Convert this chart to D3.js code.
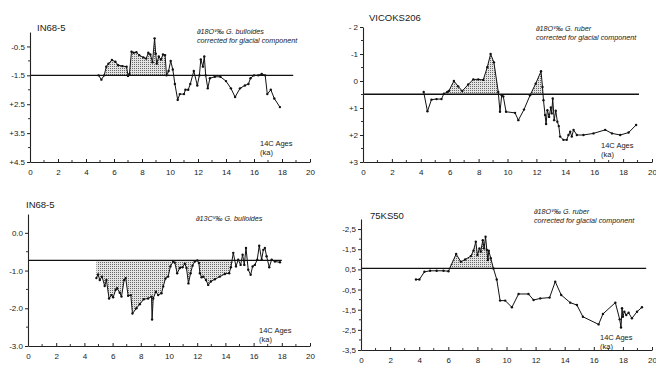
<!DOCTYPE html>
<html>
<head>
<meta charset="utf-8">
<script src="https://cdn.jsdelivr.net/npm/d3@7"></script>
<style>
  body { margin: 0; background: #fff; }
  svg text { font-family: "Liberation Sans", Arial, sans-serif; fill: #1a1a1a; }
</style>
</head>
<body>
<div id="chart"></div>
<script>
// ---- data (age in 14C ka, isotope value) ----
const xTicks = [0, 2, 4, 6, 8, 10, 12, 14, 16, 18, 20];

// IN68-5, d18O G. bulloides
const ages1 = [4.9, 5.1, 5.3, 5.45, 5.6, 5.85, 6.1, 6.3, 6.6, 6.9, 7.0, 7.1, 7.25, 7.4, 7.6, 7.8, 8.1, 8.3, 8.45, 8.6, 8.75, 8.9, 8.98, 9.05, 9.2, 9.35, 9.5, 9.65, 9.75, 9.9, 10.05, 10.2, 10.35, 10.55, 10.7, 11.0, 11.1, 11.3, 11.45, 11.7, 11.95, 12.1, 12.2, 12.35, 12.45, 12.55, 12.7, 12.85, 13.2, 13.6, 14.0, 14.35, 14.65, 15.0, 15.35, 15.6, 15.75, 16.0, 16.3, 16.55, 16.8, 16.95, 17.2, 17.45, 17.85];
const vals1 = [1.5, 1.65, 1.5, 1.2, 1.1, 0.97, 1.03, 1.15, 1.18, 1.2, 1.52, 1.45, 0.68, 0.72, 0.7, 0.8, 0.88, 0.92, 0.72, 0.78, 1.05, 0.22, 0.75, 1.1, 0.85, 0.95, 0.78, 0.8, 1.5, 1.35, 1.0, 1.3, 1.8, 2.35, 2.15, 2.15, 2.0, 2.0, 1.8, 1.35, 1.85, 1.5, 0.95, 1.2, 0.85, 1.5, 1.95, 1.6, 1.55, 1.55, 1.7, 1.95, 2.25, 1.95, 1.85, 1.8, 1.6, 1.5, 1.5, 1.45, 1.5, 2.15, 2.0, 2.3, 2.6];
const yTicks1 = [0.5, 1.5, 2.5, 3.5, 4.5];
const yLabels1 = ["-0.5", "-1.5", "+2.5", "+3.5", "+4.5"];

// VICOKS206, d18O G. ruber
const ages2 = [4.2, 4.46, 4.74, 5.09, 5.43, 5.6, 5.83, 5.94, 6.29, 6.59, 6.87, 7.28, 7.63, 7.98, 8.32, 8.6, 8.83, 9.06, 9.36, 9.48, 9.6, 9.71, 9.9, 10.52, 10.75, 11.14, 11.56, 11.95, 12.32, 12.42, 12.49, 12.6, 12.67, 12.76, 12.88, 13.0, 13.06, 13.13, 13.23, 13.34, 13.45, 13.55, 13.64, 13.87, 14.1, 14.22, 14.34, 14.45, 14.57, 14.8, 15.26, 15.95, 16.76, 17.23, 17.8, 18.38, 18.9];
const vals2 = [0.41, 1.12, 0.69, 0.67, 0.67, 0.47, 0.41, 0.37, 0.0, 0.2, 0.37, 0.13, -0.06, -0.06, -0.04, -0.51, -1.0, -0.69, 0.41, 1.14, 0.53, 0.57, 1.14, 1.18, 1.45, 1.06, 0.53, 0.1, -0.36, 0.22, 0.71, 1.26, 1.59, 1.08, 1.33, 0.98, 1.2, 0.65, 1.45, 1.1, 1.51, 1.67, 2.06, 2.18, 2.18, 2.0, 1.88, 2.06, 1.81, 2.0, 2.0, 1.94, 1.81, 1.94, 2.0, 1.91, 1.63];
const yTicks2 = [-2, -1, 0, 1, 2, 3];
const yLabels2 = ["- 2", "-1", "0", "+1", "+2", "+3"];

// IN68-5, d13C G. bulloides
const ages3 = [4.85, 4.97, 5.09, 5.25, 5.44, 5.56, 5.75, 5.92, 6.04, 6.22, 6.32, 6.51, 6.63, 6.82, 6.93, 7.1, 7.29, 7.41, 7.69, 7.93, 8.21, 8.52, 8.76, 8.8, 8.88, 9.07, 9.23, 9.47, 9.59, 9.75, 9.94, 10.1, 10.3, 10.41, 10.58, 10.77, 10.96, 11.12, 11.24, 11.38, 11.53, 11.67, 11.83, 12.0, 12.12, 12.19, 12.31, 12.43, 12.62, 12.78, 12.97, 13.25, 13.61, 13.96, 14.27, 14.39, 14.56, 14.75, 14.91, 15.08, 15.22, 15.34, 15.46, 15.62, 15.79, 15.93, 16.09, 16.26, 16.4, 16.57, 16.69, 16.8, 16.92, 17.11, 17.28, 17.51, 17.87];
const vals3 = [-1.2, -1.1, -1.25, -1.16, -1.41, -1.25, -1.74, -1.65, -1.71, -1.51, -1.47, -1.59, -1.69, -1.25, -1.2, -1.67, -1.65, -2.14, -2.0, -1.89, -1.76, -1.74, -1.69, -2.3, -1.74, -1.56, -1.65, -1.6, -1.42, -1.21, -1.16, -0.89, -0.76, -0.79, -1.07, -0.93, -0.91, -0.82, -0.93, -1.34, -1.07, -0.87, -0.76, -0.73, -0.8, -1.07, -1.18, -1.16, -1.25, -1.38, -1.29, -1.23, -1.16, -1.09, -1.07, -0.91, -0.53, -0.89, -0.71, -0.85, -0.58, -0.85, -0.4, -0.98, -1.11, -0.89, -0.85, -0.71, -0.34, -0.71, -0.45, -0.4, -0.62, -0.91, -0.71, -0.76, -0.78];
const yTicks3 = [0, -1, -2, -3];
const yLabels3 = ["0.0", "-1.0", "-2.0", "-3.0"];

// 75KS50, d18O G. ruber
const ages4 = [3.78, 4.01, 4.36, 4.75, 5.2, 5.67, 6.01, 6.54, 6.86, 7.16, 7.55, 7.73, 7.89, 8.0, 8.14, 8.23, 8.37, 8.46, 8.56, 8.65, 8.72, 8.78, 8.92, 9.1, 9.33, 9.56, 9.91, 10.37, 10.83, 11.51, 11.86, 12.32, 12.96, 13.35, 13.76, 14.38, 14.84, 15.25, 16.33, 16.63, 17.48, 17.78, 17.87, 17.94, 18.0, 18.1, 18.23, 18.39, 18.62, 18.97, 19.31];
const vals4 = [0.0, 0.0, 0.38, 0.43, 0.43, 0.43, 0.41, 1.26, 0.88, 0.99, 1.16, 1.43, 1.87, 1.21, 1.54, 1.38, 1.95, 1.54, 2.12, 1.46, 0.96, 1.43, 1.05, 0.55, 0.0, -1.05, -1.05, -1.38, -0.72, -0.72, -1.02, -0.94, -0.9, -0.11, -0.77, -1.15, -1.27, -1.85, -2.23, -1.71, -1.15, -1.98, -2.38, -1.43, -1.85, -1.6, -1.76, -1.65, -1.93, -1.6, -1.38];
const yTicks4 = [2.5, 1.5, 0.5, -0.5, -1.5, -2.5, -3.5];
const yLabels4 = ["-2,5", "-1,5", "0,5", "-0,5", "-1,5", "-2,5", "-3,5"];

// ---- panel layout (yRange maps yDomain[0] -> yRange[0]) ----
const panels = [
  { title: "IN68-5", tx: 37, ty: 31, ages: ages1, vals: vals1, base: 1.5, baseEnd: 18.8,
    xRange: [30, 310], yDomain: [0, 4.5], yRange: [32, 162], yTicks: yTicks1, yLabels: yLabels1,
    shade: [5.2, 9.9], side: "up",
    notes: ["\u220218O\u1D5B\u2030 G. bulloides", "corrected for glacial component"], nx: 197, ny: 34,
    ax: 260, ay: 146 },
  { title: "VICOKS206", tx: 369, ty: 21, ages: ages2, vals: vals2, base: 0.49, baseEnd: 19.1,
    xRange: [363, 652], yDomain: [-2, 3], yRange: [27, 162], yTicks: yTicks2, yLabels: yLabels2,
    shade: [5.5, 12.55], side: "up",
    notes: ["\u220218O\u1D5B\u2030 G. ruber", "corrected for glacial component"], nx: 536, ny: 31,
    ax: 601, ay: 148 },
  { title: "IN68-5", tx: 26, ty: 208, ages: ages3, vals: vals3, base: -0.73, baseEnd: 18.0,
    xRange: [28, 310], yDomain: [-3, 0.5], yRange: [346, 214], yTicks: yTicks3, yLabels: yLabels3,
    shade: [4.8, 14.6], side: "down",
    notes: ["\u220213C\u1D5B\u2030 G. bulloides"], nx: 196, ny: 221,
    ax: 259, ay: 333 },
  { title: "75KS50", tx: 370, ty: 219, ages: ages4, vals: vals4, base: 0.55, baseEnd: 19.6,
    xRange: [361, 652], yDomain: [-3.5, 3], yRange: [350, 219], yTicks: yTicks4, yLabels: yLabels4,
    shade: [6.0, 9.35], side: "up",
    notes: ["\u220218O\u1D5B\u2030 G. ruber", "corrected for glacial component"], nx: 534, ny: 214,
    ax: 600, ay: 340 }
];

const svg = d3.select("#chart").append("svg")
  .attr("width", 656)
  .attr("height", 365);

// stipple fill used for the shaded excursions
const pat = svg.append("defs").append("pattern")
  .attr("id", "stipple")
  .attr("width", 2).attr("height", 2)
  .attr("patternUnits", "userSpaceOnUse");
pat.append("rect").attr("width", 2).attr("height", 2).attr("fill", "#e4e4e4");
pat.append("rect").attr("width", 1).attr("height", 1).attr("fill", "#6a6a6a");

panels.forEach(p => {
  const x = d3.scaleLinear().domain([0, 20]).range(p.xRange);
  const y = d3.scaleLinear().domain(p.yDomain).range(p.yRange);
  const pts = p.ages.map((a, i) => ({ age: a, val: p.vals[i] }));
  const g = svg.append("g");
  const yb = y(p.base);
  const yBottom = Math.max(p.yRange[0], p.yRange[1]);

  // shaded area between baseline and curve
  const shadePts = pts.filter(d => d.age >= p.shade[0] && d.age <= p.shade[1]);
  const area = d3.area()
    .x(d => x(d.age))
    .y0(yb)
    .y1(d => p.side === "up" ? Math.min(y(d.val), yb) : Math.max(y(d.val), yb));
  g.append("path")
    .datum(shadePts)
    .attr("d", area)
    .attr("fill", "url(#stipple)")
    .attr("stroke", "none");

  // reference line
  g.append("line")
    .attr("x1", x(0)).attr("x2", x(p.baseEnd))
    .attr("y1", yb).attr("y2", yb)
    .attr("stroke", "#111")
    .attr("stroke-width", 1.4);

  // axes
  const yAxis = g.append("g")
    .attr("transform", `translate(${x(0)},0)`)
    .call(d3.axisLeft(y)
      .tickValues(p.yTicks)
      .tickFormat((d, i) => p.yLabels[i])
      .tickSize(3)
      .tickSizeOuter(0)
      .tickPadding(2));
  const yMinor = d3.range(p.yTicks.length - 1).map(i => (p.yTicks[i] + p.yTicks[i + 1]) / 2);
  yAxis.selectAll(".minor").data(yMinor).enter().append("line")
    .attr("x1", -2).attr("x2", 1)
    .attr("y1", d => y(d)).attr("y2", d => y(d))
    .attr("stroke", "#333");

  const xAxis = g.append("g")
    .attr("transform", `translate(0,${yBottom})`)
    .call(d3.axisBottom(x)
      .tickValues(xTicks)
      .tickSize(-3)
      .tickSizeOuter(0)
      .tickPadding(7));
  xAxis.selectAll(".minor").data(d3.range(1, 20, 2)).enter().append("line")
    .attr("x1", d => x(d)).attr("x2", d => x(d))
    .attr("y1", 0).attr("y2", -2)
    .attr("stroke", "#333");

  [yAxis, xAxis].forEach(a => {
    a.attr("font-size", 8).attr("font-family", "Liberation Sans, Arial, sans-serif");
    a.select(".domain").attr("stroke", "#222").attr("stroke-width", 1.1);
    a.selectAll(".tick line").attr("stroke", "#222");
    a.selectAll(".tick text").attr("fill", "#1a1a1a");
  });

  // data line with point markers
  const line = d3.line()
    .x(d => x(d.age))
    .y(d => y(d.val));
  g.append("path")
    .datum(pts)
    .attr("d", line)
    .attr("fill", "none")
    .attr("stroke", "#111")
    .attr("stroke-width", 1);
  g.selectAll(".dot")
    .data(pts)
    .enter()
    .append("circle")
    .attr("cx", d => x(d.age))
    .attr("cy", d => y(d.val))
    .attr("r", 1.2)
    .attr("fill", "#111");

  // titles and annotations
  g.append("text")
    .attr("x", p.tx).attr("y", p.ty)
    .attr("font-size", 9.5)
    .text(p.title);
  p.notes.forEach((n, i) => {
    g.append("text")
      .attr("x", p.nx).attr("y", p.ny + i * 9)
      .attr("font-size", 7.2)
      .attr("font-style", "italic")
      .text(n);
  });
  g.append("text")
    .attr("x", p.ax).attr("y", p.ay)
    .attr("font-size", 7.5)
    .text("14C Ages");
  g.append("text")
    .attr("x", p.ax).attr("y", p.ay + 9)
    .attr("font-size", 7.5)
    .text("(ka)");
});
</script>
</body>
</html>
